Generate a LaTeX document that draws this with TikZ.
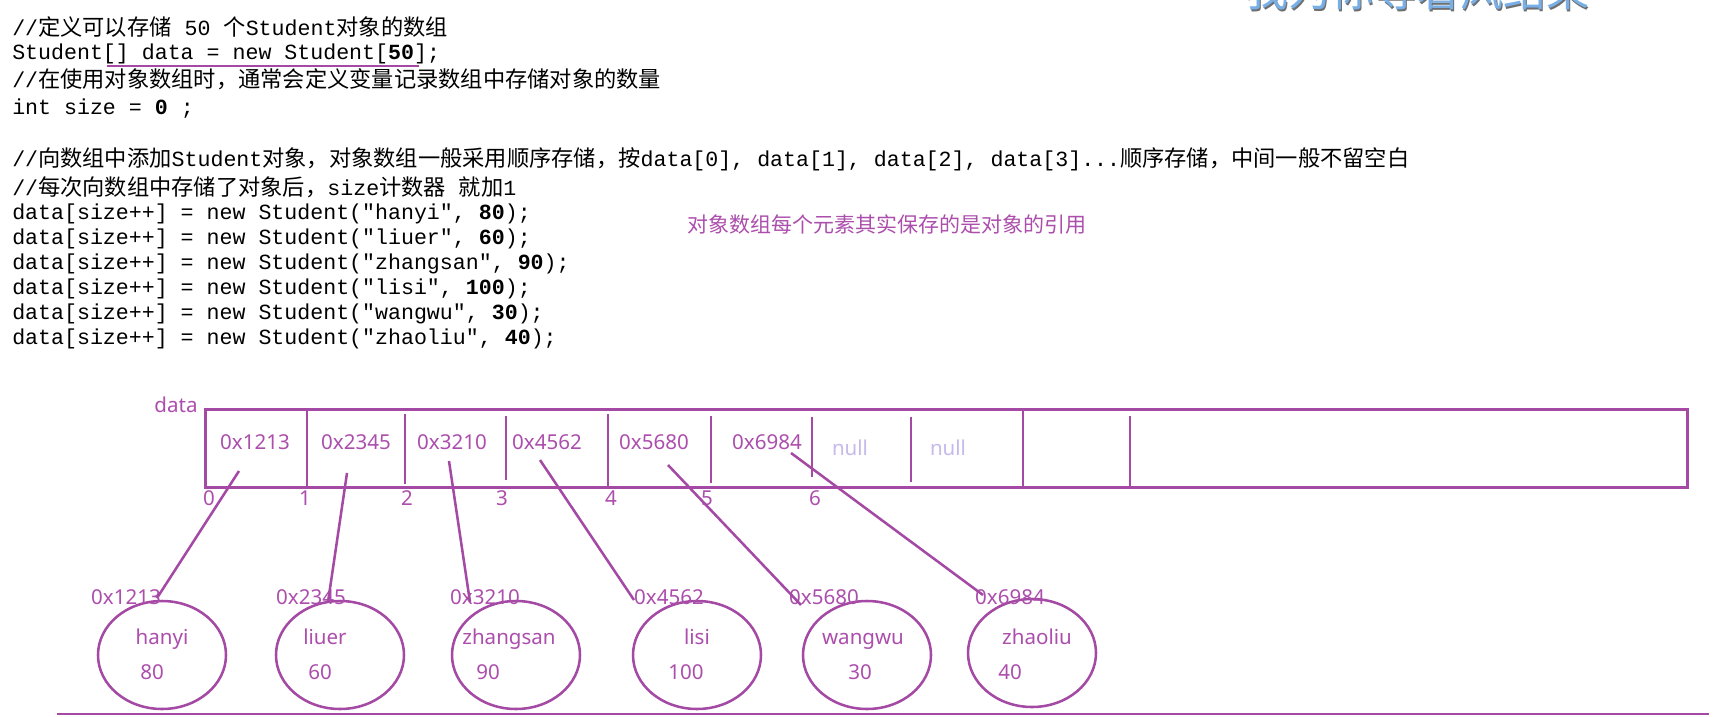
\documentclass[tikz,border=0pt]{standalone}
\usepackage{fontspec}
\usetikzlibrary{shapes.geometric}
\newfontfamily\codefont{Liberation Mono}
\newfontfamily\cjkcode[Scale=1.03]{Noto Sans CJK SC}
\newfontfamily\sansf{Noto Sans}
\newfontfamily\cjksans{Noto Sans CJK SC}
\newcommand\zh[1]{{\cjkcode #1}}
\definecolor{pur}{RGB}{164,74,164}
\definecolor{ptext}{RGB}{172,78,172}
\definecolor{nullc}{RGB}{198,186,234}
\definecolor{wmblue}{RGB}{120,175,230}
\definecolor{wmshadow}{RGB}{110,110,110}
\begin{document}
\begin{tikzpicture}[x=0.75pt,y=-0.75pt,
  code/.style={anchor=base west,inner sep=0pt,text=black,font={\codefont\fontsize{16.2}{18}\selectfont}},
  lab/.style={anchor=base,inner sep=0pt,text=ptext,font={\sansf\fontsize{15.4}{18}\selectfont}},
  nulllab/.style={lab,text=nullc},
  stud/.style={draw=pur,line width=1.9pt,ellipse,minimum width=96pt,minimum height=81pt,inner sep=0pt},
  arrbox/.style={draw=pur,line width=2.25pt,rectangle,inner sep=0pt,minimum width=1111.5pt,minimum height=58.5pt},
  divline/.style={draw=pur,line width=1.9pt},
  link/.style={draw=pur,line width=1.9pt}]
\useasboundingbox (0,0) rectangle (1731,717);
\fill[white] (0,0) rectangle (1731,717);

% watermark (cut off at top)
\begin{scope}
\clip (0,0) rectangle (1731,717);
\node[anchor=base west,inner sep=0pt,text=wmshadow,font={\cjksans\fontsize{32.25}{36}\selectfont}] (wms) at (1246.5,8.5) {我为你等着风结果};
\node[anchor=base west,inner sep=0pt,text=wmblue,font={\cjksans\fontsize{32.25}{36}\selectfont}] (wm) at (1245,7) {我为你等着风结果};
\end{scope}

% code
\node[code] (c1) at (12,36) {//\zh{定义可以存储} 50 \zh{个}Student\zh{对象的数组}};
\node[code] (c2) at (12,60) {Student[] data = new Student[\textbf{50}];};
\node[code] (c3) at (12,88) {//\zh{在使用对象数组时，通常会定义变量记录数组中存储对象的数量}};
\node[code] (c4) at (12,114) {int size = \textbf{0} ;};
\node[code] (c5) at (12,166) {//\zh{向数组中添加}Student\zh{对象，对象数组一般采用顺序存储，按}data[0], data[1], data[2], data[3]...\zh{顺序存储，中间一般不留空白}};
\node[code] (c6) at (12,195) {//\zh{每次向数组中存储了对象后，}size\zh{计数器} \zh{就加}1};
\node[code] (c7) at (12,219) {data[size++] = new Student("hanyi", \textbf{80});};
\node[code] (c8) at (12,244) {data[size++] = new Student("liuer", \textbf{60});};
\node[code] (c9) at (12,269) {data[size++] = new Student("zhangsan", \textbf{90});};
\node[code] (c10) at (12,294) {data[size++] = new Student("lisi", \textbf{100});};
\node[code] (c11) at (12,319) {data[size++] = new Student("wangwu", \textbf{30});};
\node[code] (c12) at (12,344) {data[size++] = new Student("zhaoliu", \textbf{40});};
\draw[pur,line width=1.5pt] (107,66) -- (419,66);

% annotation
\node[anchor=base west,inner sep=0pt,text=ptext,font={\cjksans\fontsize{15.75}{18}\selectfont}] (note) at (687,232) {对象数组每个元素其实保存的是对象的引用};

% array
\node[arrbox] (arr) at (946,448) {};
\node[lab] (dlab) at (176,412) {data};
\draw[divline] (307,409) -- (307,487);
\draw[divline] (405,414) -- (405,484);
\draw[divline] (506,416) -- (506,480);
\draw[divline] (608,414) -- (608,487);
\draw[divline] (711,416) -- (711,483);
\draw[divline] (812,417) -- (812,477);
\draw[divline] (911,417) -- (911,482);
\draw[divline] (1023,409) -- (1023,487);
\draw[divline] (1130,416) -- (1130,487);

\node[lab] (a0) at (255,449) {0x1213};
\node[lab] (a1) at (356,449) {0x2345};
\node[lab] (a2) at (452,449) {0x3210};
\node[lab] (a3) at (547,449) {0x4562};
\node[lab] (a4) at (654,449) {0x5680};
\node[lab] (a5) at (767,449) {0x6984};
\node[nulllab] (n6) at (850,455) {null};
\node[nulllab] (n7) at (948,455) {null};

\node[lab] (i0) at (209,505) {0};
\node[lab] (i1) at (305,505) {1};
\node[lab] (i2) at (407,505) {2};
\node[lab] (i3) at (502,505) {3};
\node[lab] (i4) at (611,505) {4};
\node[lab] (i5) at (707,505) {5};
\node[lab] (i6) at (815,505) {6};

% students
\node[stud] (s1) at (162,655) {};
\node[stud] (s2) at (340,655) {};
\node[stud] (s3) at (516,655) {};
\node[stud] (s4) at (697,655) {};
\node[stud] (s5) at (867,655) {};
\node[stud] (s6) at (1032,653) {};

\node[lab] (t1) at (126,604) {0x1213};
\node[lab] (t2) at (311,604) {0x2345};
\node[lab] (t3) at (485,604) {0x3210};
\node[lab] (t4) at (669,604) {0x4562};
\node[lab] (t5) at (824,604) {0x5680};
\node[lab] (t6) at (1010,604) {0x6984};

\node[lab] (m1) at (162,644) {hanyi};
\node[lab] (m2) at (325,644) {liuer};
\node[lab] (m3) at (509,644) {zhangsan};
\node[lab] (m4) at (697,644) {lisi};
\node[lab] (m5) at (863,644) {wangwu};
\node[lab] (m6) at (1037,644) {zhaoliu};

\node[lab] (v1) at (152,679) {80};
\node[lab] (v2) at (320,679) {60};
\node[lab] (v3) at (488,679) {90};
\node[lab] (v4) at (686,679) {100};
\node[lab] (v5) at (860,679) {30};
\node[lab] (v6) at (1010,679) {40};

% connectors
\coordinate (p1) at (239,471); \coordinate (q1) at (157,598);
\coordinate (p2) at (347,473); \coordinate (q2) at (328,602);
\coordinate (p3) at (449,461); \coordinate (q3) at (470,602);
\coordinate (p4) at (540,460); \coordinate (q4) at (634,600);
\coordinate (p5) at (668,465); \coordinate (q5) at (801,605);
\coordinate (p6) at (791,453); \coordinate (q6) at (983,595);
\draw[link] (p1) -- (q1);
\draw[link] (p2) -- (q2);
\draw[link] (p3) -- (q3);
\draw[link] (p4) -- (q4);
\draw[link] (p5) -- (q5);
\draw[link] (p6) -- (q6);

% bottom rule
\draw[pur,line width=1.1pt] (57,714) -- (1709,714);
\end{tikzpicture}
\end{document}
